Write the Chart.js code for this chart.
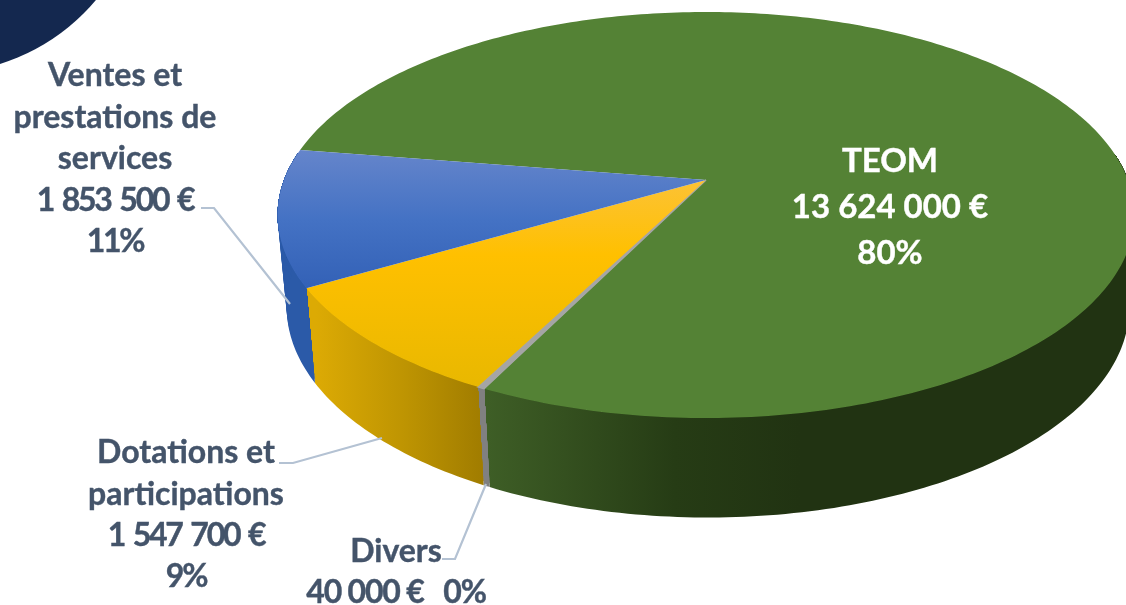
<!DOCTYPE html>
<html lang="fr">
<head>
<meta charset="utf-8">
<title>Recettes</title>
<style>
  html, body { margin: 0; padding: 0; background: #fff; overflow: hidden; }
  canvas { display: block; }
</style>
<script src="https://cdn.jsdelivr.net/npm/chart.js@4/dist/chart.umd.js"></script>
</head>
<body>
<canvas id="pie" width="1126" height="605"></canvas>
<script>
const categories = ['TEOM', 'Divers', 'Dotations et participations', 'Ventes et prestations de services'];
const values = [13624000, 40000, 1547700, 1853500];
const percents = ['80%', '0%', '9%', '11%'];

const sliceColors = ['#548235', '#a5a5a5', '#ffc000', '#4472c4'];

// camera: the disc is seen in perspective, so the apex is not the ellipse centre
const top3d = { x: 706, y: 180, rx: 422, ry: 197, k: 0.1724 };
const bottom3d = { x: 708, y: 271, rx: 415, ry: 204, k: 0.1724 };

// label blocks, one entry per category
const labelLines = [
    [categories[0], euro(values[0]), percents[0]],
    [categories[1], euro(values[1]) + '   ' + percents[1]],
    ['Dotations et', 'participations', euro(values[2]), percents[2]],
    ['Ventes et', 'prestations de', 'services', euro(values[3]), percents[3]]
];
const labelSpots = [
    { x: 890, y: 161, step: 46, color: '#ffffff', size: 33, tight: 0, gap: 0 },
    { x: 396, y: 552, step: 41, color: '#44546a', size: 32, tight: 1.2, gap: 0 },
    { x: 186, y: 453, step: 41.3, color: '#44546a', size: 32, tight: 2.2, gap: 3 },
    { x: 115, y: 76, step: 41.5, color: '#44546a', size: 32, tight: 2.2, gap: 3 }
];
const leaders = [
    [[201, 208], [214, 208], [290, 304]],
    [[279, 463], [293, 463], [382, 438]],
    [[442, 559], [455, 559], [486, 484]]
];

function euro(v) {
    return String(v).replace(/\B(?=(\d{3})+$)/g, ' ') + ' €';
}

function project(cam, angle) {
    const u = Math.cos(angle), v = Math.sin(angle);
    const d = 1 - cam.k * v;
    return [cam.x + cam.rx * u / d, cam.y + cam.ry * v / d];
}

// rim part way down the side of the disc
function midCam(t) {
    const cam = { k: top3d.k };
    ['x', 'y', 'rx', 'ry'].forEach(key => {
        cam[key] = top3d[key] + (bottom3d[key] - top3d[key]) * t;
    });
    return cam;
}

function wallFill(ctx, i) {
    if (i === 1) return '#808080';
    if (i === 3) return '#2b5aa8';
    if (i === 2) {
        const g = ctx.createLinearGradient(316, 0, 487, 0);
        g.addColorStop(0, '#dcaa04');
        g.addColorStop(0.5, '#bf9502');
        g.addColorStop(1, '#9f7b00');
        return g;
    }
    const g = ctx.createLinearGradient(487, 0, 800, 0);
    g.addColorStop(0, '#3e5e26');
    g.addColorStop(0.6, '#263c15');
    g.addColorStop(1, '#213312');
    return g;
}

function topFill(ctx, i) {
    if (i === 3) {
        const g = ctx.createLinearGradient(0, 150, 0, 305);
        g.addColorStop(0, '#6585cb');
        g.addColorStop(0.45, '#4472c4');
        g.addColorStop(1, '#2f5db3');
        return g;
    }
    if (i === 2) {
        const g = ctx.createLinearGradient(0, 185, 0, 385);
        g.addColorStop(0, '#fcc232');
        g.addColorStop(0.35, '#ffc000');
        g.addColorStop(1, '#e9b800');
        return g;
    }
    return sliceColors[i];
}

const pie3d = {
    id: 'pie3d',
    beforeDraw(chart) {
        // navy corner of the slide behind the chart
        const ctx = chart.ctx;
        ctx.save();
        ctx.fillStyle = '#14284f';
        ctx.beginPath();
        ctx.arc(-60, -130, 203, 0, Math.PI * 2);
        ctx.fill();
        ctx.restore();
    },
    beforeDatasetsDraw(chart) {
        const ctx = chart.ctx;
        const arcs = chart.getDatasetMeta(0).data;
        ctx.save();
        // walls first, the top face hides what is behind it
        arcs.forEach((arc, i) => {
            const p = arc.getProps(['startAngle', 'endAngle'], true);
            let run = [];
            const flush = () => {
                if (run.length > 1) {
                    ctx.fillStyle = wallFill(ctx, i);
                    // sweep the rim down so the outline follows the side of the solid
                    for (let t = 1; t <= 24; t++) {
                        const cam = midCam(t / 24);
                        ctx.beginPath();
                        run.forEach((a, n) => {
                            const pt = project(top3d, a);
                            n ? ctx.lineTo(pt[0], pt[1]) : ctx.moveTo(pt[0], pt[1]);
                        });
                        run.slice().reverse().forEach(a => {
                            const pt = project(cam, a);
                            ctx.lineTo(pt[0], pt[1]);
                        });
                        ctx.closePath();
                        ctx.fill();
                    }
                }
                run = [];
            };
            const n = Math.max(4, Math.ceil((p.endAngle - p.startAngle) * 60));
            for (let s = 0; s <= n; s++) {
                const a = p.startAngle + (p.endAngle - p.startAngle) * s / n;
                if (Math.sin(a) > -0.15) run.push(a); else flush();
            }
            flush();
        });
        // top faces
        arcs.forEach((arc, i) => {
            const p = arc.getProps(['startAngle', 'endAngle'], true);
            const n = Math.max(4, Math.ceil((p.endAngle - p.startAngle) * 60));
            ctx.beginPath();
            ctx.moveTo(top3d.x, top3d.y);
            for (let s = 0; s <= n; s++) {
                const pt = project(top3d, p.startAngle + (p.endAngle - p.startAngle) * s / n);
                ctx.lineTo(pt[0], pt[1]);
            }
            ctx.closePath();
            ctx.fillStyle = topFill(ctx, i);
            ctx.fill();
            if (i === 1) {
                ctx.strokeStyle = sliceColors[1];
                ctx.lineWidth = 1.5;
                ctx.stroke();
            }
        });
        ctx.restore();
        return false;
    },
    afterDraw(chart) {
        const ctx = chart.ctx;
        ctx.save();
        ctx.strokeStyle = '#b4c2d3';
        ctx.lineWidth = 2.2;
        leaders.forEach(line => {
            ctx.beginPath();
            line.forEach((pt, n) => n ? ctx.lineTo(pt[0], pt[1]) : ctx.moveTo(pt[0], pt[1]));
            ctx.stroke();
        });
        ctx.textAlign = 'center';
        ctx.textBaseline = 'middle';
        ctx.lineWidth = 0.4;
        labelLines.forEach((lines, i) => {
            const spot = labelSpots[i];
            ctx.font = 'bold ' + spot.size + 'px Lato, Carlito, sans-serif';
            ctx.fillStyle = spot.color;
            ctx.strokeStyle = spot.color;
            lines.forEach((text, n) => {
                // the reference's figures are narrower than Lato's
                const digits = /\d/.test(text);
                ctx.letterSpacing = digits ? -spot.tight + 'px' : '0px';
                ctx.wordSpacing = digits ? spot.gap + 'px' : '0px';
                ctx.fillText(text, spot.x, spot.y + n * spot.step);
                ctx.strokeText(text, spot.x, spot.y + n * spot.step);
            });
        });
        ctx.restore();
    }
};

new Chart(document.getElementById('pie'), {
    type: 'pie',
    data: {
        labels: categories,
        datasets: [{ data: values, backgroundColor: sliceColors, borderWidth: 0 }]
    },
    options: {
        responsive: false,
        animation: false,
        rotation: 279,
        plugins: { legend: { display: false }, tooltip: { enabled: false } }
    },
    plugins: [pie3d]
});
</script>
</body>
</html>
